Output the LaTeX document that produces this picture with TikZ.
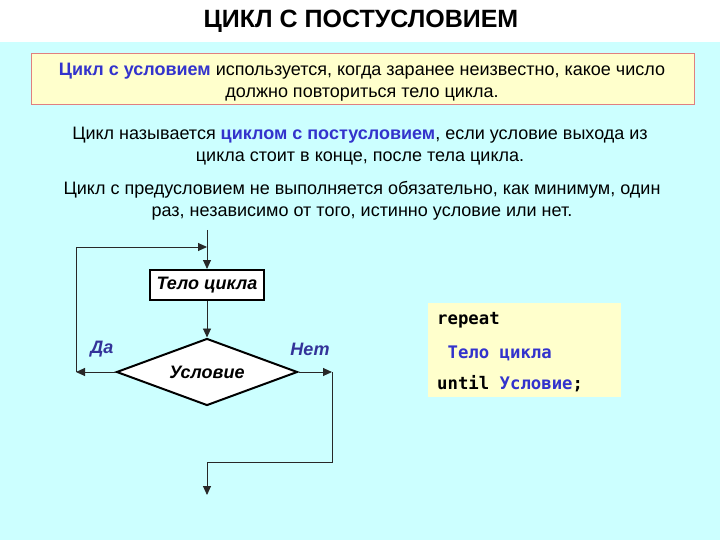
\documentclass[tikz,border=0pt]{standalone}
\usepackage{fontspec}
\setmainfont{Liberation Sans}
\setmonofont{DejaVu Sans Mono}
\usetikzlibrary{shapes.geometric,arrows.meta}
\definecolor{bgcyan}{RGB}{204,255,255}
\definecolor{noteyellow}{RGB}{255,255,204}
\definecolor{noteborder}{RGB}{224,128,128}
\definecolor{hlblue}{RGB}{51,51,204}
\definecolor{lblblue}{RGB}{51,51,153}
\definecolor{flowline}{RGB}{40,40,40}
\tikzset{
  bodytext/.style={font=\fontsize{18}{22}\selectfont, align=center, inner sep=0pt},
  flowarrow/.style={draw=flowline, line width=0.9pt, -{Triangle[length=9pt,width=8pt]}},
  blockbox/.style={draw=black, line width=2pt, fill=white, minimum width=114pt, minimum height=30pt, inner sep=0pt, font=\fontsize{18}{20}\selectfont\bfseries\itshape},
  condbox/.style={diamond, draw=black, line width=2pt, fill=white, minimum width=181pt, minimum height=67pt, inner sep=0pt, aspect=2.7, font=\fontsize{18}{20}\selectfont\bfseries\itshape},
  branchlabel/.style={text=lblblue, font=\fontsize{18}{20}\selectfont\bfseries\itshape, inner sep=0pt},
  codeline/.style={anchor=west, inner sep=0pt, font=\fontsize{17.3}{20}\selectfont\ttfamily\bfseries}
}
\begin{document}
\begin{tikzpicture}[x=1pt,y=-1pt]
\useasboundingbox (0,0) rectangle (720,540);
\fill[white] (0,0) rectangle (720,42);
\fill[bgcyan] (0,42) rectangle (720,540);
\node[inner sep=0pt, font=\fontsize{25}{28}\selectfont\bfseries] (title) at (361,21) {ЦИКЛ С ПОСТУСЛОВИЕМ};
% note box
\draw[noteborder, line width=1pt, fill=noteyellow] (31,54) rectangle (694,105);
\node[bodytext] (note) at (362,82) {\textcolor{hlblue}{\bfseries Цикл с условием} используется, когда заранее неизвестно, какое число\\должно повториться тело цикла.};
\node[bodytext] (para1) at (360,146) {Цикл называется \textcolor{hlblue}{\bfseries циклом с постусловием}, если условие выхода из\\цикла стоит в конце, после тела цикла.};
\node[bodytext] (para2) at (362,201) {Цикл с предусловием не выполняется обязательно, как минимум, один\\раз, независимо от того, истинно условие или нет.};
% flowchart
\node[blockbox] (body) at (207,285) {Тело цикла};
\node[condbox] (cond) at (207,372) {Условие};
\coordinate (top) at (207,230);
\coordinate (join) at (207,247);
\coordinate (yesend) at (76,372);
\coordinate (yesup) at (76,247);
\coordinate (noend) at (332,372);
\coordinate (nodown) at (332,462);
\coordinate (nomid) at (207,462);
\coordinate (exit) at (207,495);
\draw[flowarrow] (top) -- (body.north);
\draw[flowarrow] (body.south) -- (cond.north);
\draw[flowarrow] (cond.west) -- (yesend);
\draw[flowarrow] (yesend) -- (yesup) -- (join);
\draw[flowarrow] (cond.east) -- (noend);
\draw[flowarrow] (noend) -- (nodown) -- (nomid) -- (exit);
\node[branchlabel] (yes) at (102,349) {Да};
\node[branchlabel] (no) at (310,349) {Нет};
% code box
\fill[noteyellow] (428,303) rectangle (621,397);
\node[codeline] (c1) at (437,320) {repeat};
\node[codeline] (c2) at (437,353) {\ \textcolor{hlblue}{Тело цикла}};
\node[codeline] (c3) at (437,384) {until \textcolor{hlblue}{Условие};};
\end{tikzpicture}
\end{document}
